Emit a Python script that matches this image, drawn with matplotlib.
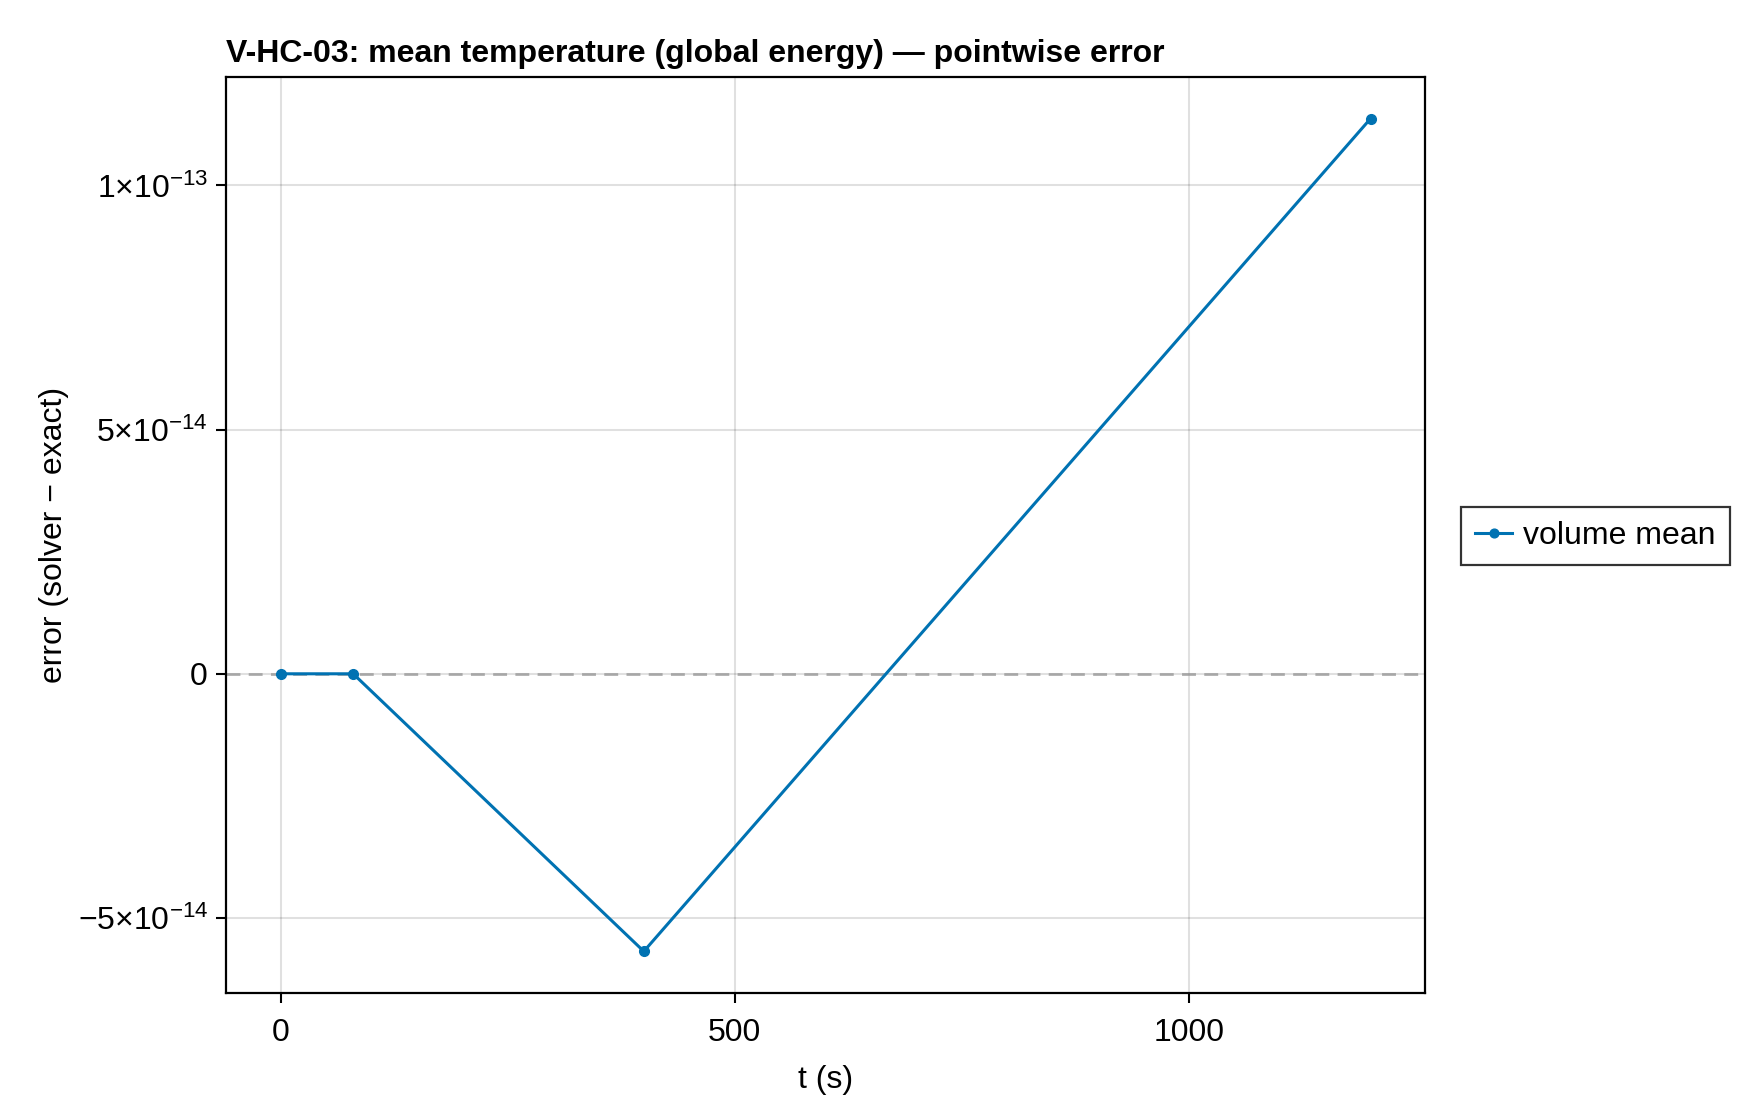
import numpy as np
import matplotlib
matplotlib.use("Agg")
import matplotlib.pyplot as plt
from matplotlib.ticker import FixedLocator

# data
t_s = [0, 80, 400, 1200]
err = [0.0, 0.0, -5.684341886080802e-14, 1.1368683772161603e-13]
y_ticks = [-5e-14, 0, 5e-14, 1e-13]
y_ticklabels = ["\u2212" + r"$5{\times}10^{-14}$", "0", r"$5{\times}10^{-14}$", r"$1{\times}10^{-13}$"]
x_ticks = [0, 500, 1000]

plt.rcParams["font.family"] = ["Liberation Sans", "DejaVu Sans"]
plt.rcParams["mathtext.fontset"] = "custom"
plt.rcParams["mathtext.rm"] = "Liberation Sans"
plt.rcParams["mathtext.it"] = "Liberation Sans"
plt.rcParams["mathtext.default"] = "rm"

blue = "#0072B2"
fs = 23

fig = plt.figure(figsize=(17.6, 11.2), dpi=100)
ax = fig.add_axes([226 / 1760, 1 - 993 / 1120, 1199 / 1760, 916 / 1120])

ax.axhline(0, color="#999999", alpha=0.8, lw=2.0, ls=(0, (5, 3)), zorder=1)
ax.plot(t_s, err, color=blue, lw=2.2, marker="o", ms=7, label="volume mean", zorder=3)

xr = max(t_s) - min(t_s)
ax.set_xlim(min(t_s) - 0.05 * xr, max(t_s) + 0.05 * xr)
yr = max(err) - min(err)
ax.set_ylim(min(err) - 0.05 * yr, max(err) + 0.05 * yr)

ax.xaxis.set_major_locator(FixedLocator(x_ticks))
ax.set_yticks(y_ticks)
ax.set_yticklabels(y_ticklabels)

ax.grid(True, color="black", alpha=0.12, lw=1.5)
ax.set_axisbelow(True)
for sp in ax.spines.values():
    sp.set_linewidth(1.6)
ax.tick_params(direction="out", length=7, width=1.5, labelsize=fs, pad=6)
ax.tick_params(axis="x", pad=11)

ax.set_xlabel("t (s)", fontsize=fs, labelpad=12)
ax.set_ylabel("error (solver \u2212 exact)", fontsize=fs, labelpad=6)
ax.set_title("V-HC-03: mean temperature (global energy) \u2014 pointwise error",
             fontsize=fs, fontweight="bold", loc="left", pad=11)

leg = fig.legend(loc="center left", bbox_to_anchor=(1461 / 1760, 1 - 536 / 1120),
                 bbox_transform=fig.transFigure, fontsize=fs, fancybox=False,
                 edgecolor="black", handlelength=1.15, handletextpad=0.35,
                 borderpad=0.45, borderaxespad=0, markerscale=0.9)
leg.get_frame().set_linewidth(1.6)

fig.savefig("out.png", dpi=100)
